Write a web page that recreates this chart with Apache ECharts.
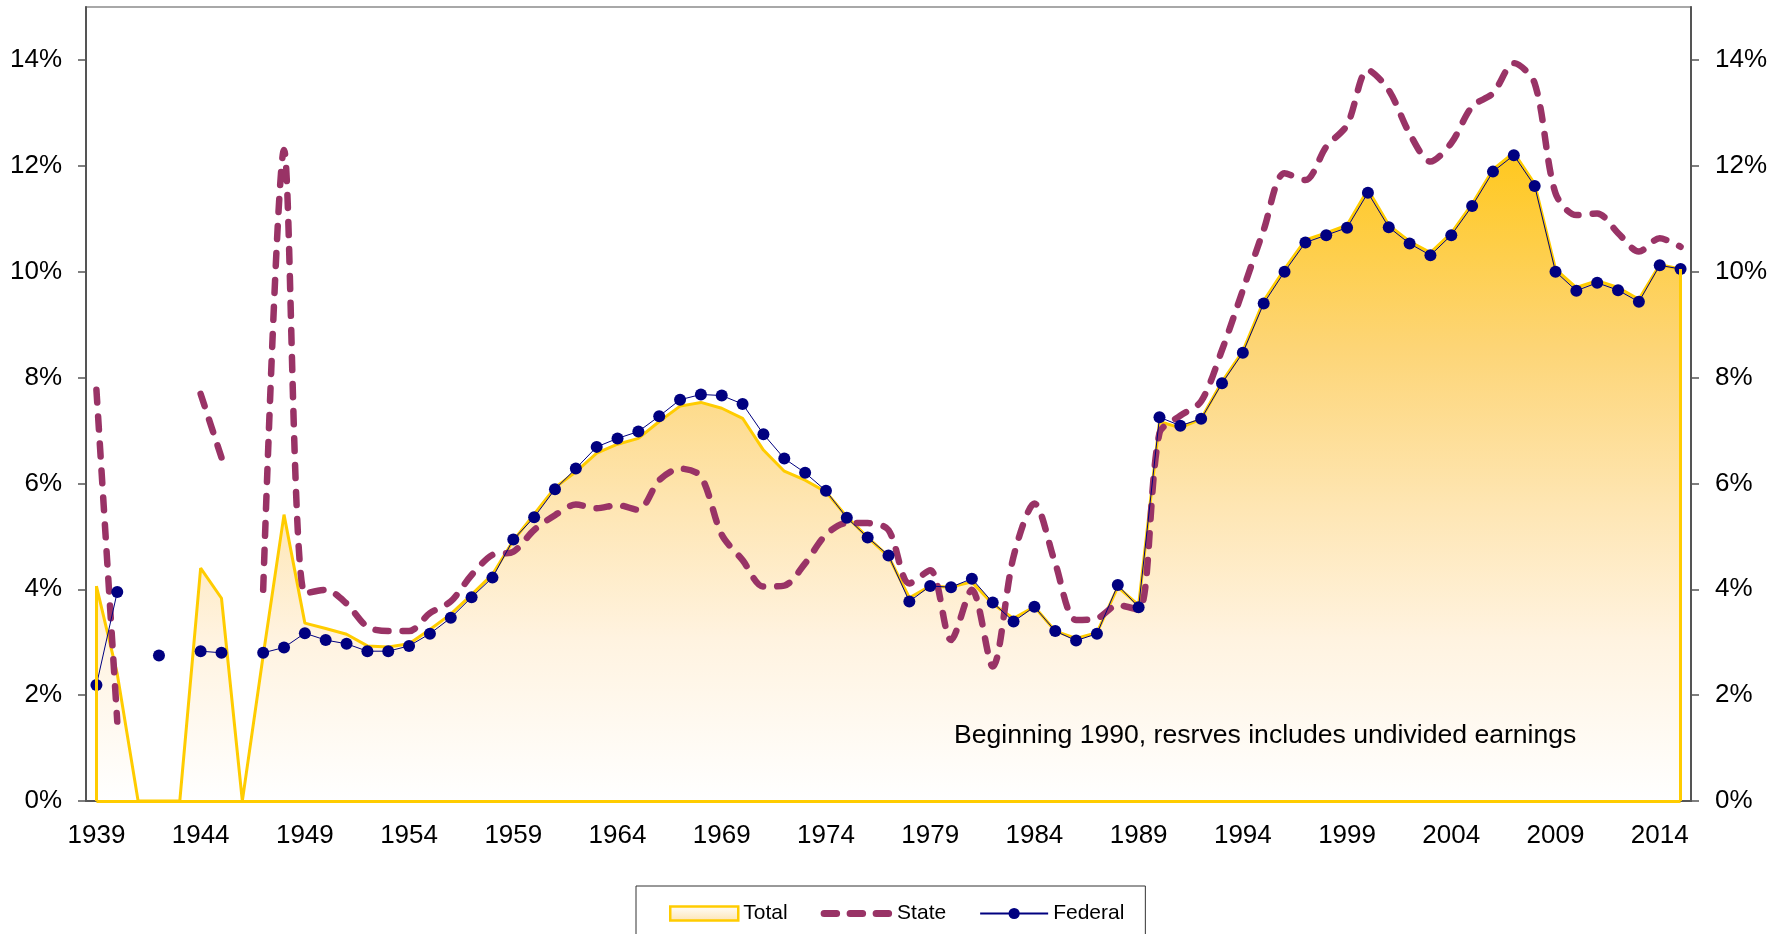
<!DOCTYPE html>
<html>
<head>
    <meta charset="utf-8">
    <title>Reserves</title>
    <script src="https://cdn.jsdelivr.net/npm/echarts@6/dist/echarts.min.js"></script>
    <style>
        html, body { margin: 0; padding: 0; background: #fff; }
        #chart { width: 1784px; height: 934px; }
    </style>
</head>
<body>
<div id="chart"></div>
<script>
    // years 1939..2015
    const years = [];
    for (let y = 1939; y <= 2015; y++) years.push(String(y));

    const total = [
        4.06, 2.40, 0, 0, 0, 4.40, 3.83, 0, 2.75, 5.41,
        3.36, 3.26, 3.15, 2.93, 2.91, 2.97, 3.24, 3.53, 3.90, 4.28,
        4.92, 5.42, 5.92, 6.22, 6.57, 6.74, 6.85, 7.17, 7.46, 7.53,
        7.42, 7.23, 6.63, 6.23, 6.06, 5.84, 5.37, 4.98, 4.62, 3.84,
        4.06, 4.04, 4.14, 3.72, 3.45, 3.67, 3.21, 3.07, 3.18, 4.04,
        3.70, 7.17, 7.05, 7.22, 7.92, 8.50, 9.45, 10.05, 10.60, 10.73,
        10.88, 11.55, 10.88, 10.57, 10.36, 10.73, 11.28, 11.93, 12.25, 11.66,
        10.05, 9.70, 9.83, 9.70, 9.48, 10.13, 10.05
    ];
    const state = [
        7.77, 1.50, null, null, null, 7.69, 6.49, null, 3.99, 12.30,
        3.92, 3.99, 3.73, 3.29, 3.21, 3.21, 3.55, 3.77, 4.27, 4.65,
        4.71, 5.12, 5.40, 5.60, 5.53, 5.59, 5.50, 6.06, 6.28, 6.13,
        5.03, 4.55, 4.05, 4.07, 4.49, 5.03, 5.25, 5.25, 5.12, 4.11,
        4.36, 3.04, 3.99, 2.54, 4.62, 5.62, 4.49, 3.42, 3.45, 3.70,
        3.61, 6.95, 7.28, 7.55, 8.52, 9.65, 10.79, 11.86, 11.73, 12.36,
        12.77, 13.81, 13.43, 12.61, 12.08, 12.43, 13.12, 13.37, 13.94, 13.56,
        11.48, 11.07, 11.10, 10.73, 10.38, 10.63, 10.47
    ];
    const federal = [
        2.19, 3.95, null, 2.75, null, 2.83, 2.80, null, 2.80, 2.90,
        3.17, 3.04, 2.97, 2.83, 2.83, 2.93, 3.16, 3.46, 3.85, 4.22,
        4.94, 5.36, 5.89, 6.28, 6.69, 6.85, 6.98, 7.27, 7.58, 7.68,
        7.66, 7.50, 6.93, 6.47, 6.20, 5.86, 5.35, 4.98, 4.64, 3.77,
        4.06, 4.04, 4.20, 3.75, 3.39, 3.67, 3.21, 3.03, 3.16, 4.08,
        3.66, 7.25, 7.09, 7.22, 7.89, 8.47, 9.40, 10.00, 10.55, 10.69,
        10.83, 11.49, 10.84, 10.53, 10.31, 10.69, 11.24, 11.89, 12.20, 11.62,
        10.00, 9.64, 9.79, 9.65, 9.43, 10.12, 10.05
    ];
    const yTicks = [0, 2, 4, 6, 8, 10, 12, 14];
    const note = 'Beginning 1990, resrves includes undivided earnings';

    const FONT = '"Liberation Sans", Arial, sans-serif';
    const first = years[0], last = years[years.length - 1];

    function yAxisOpt(pos) {
        return {
            type: 'value', position: pos, min: 0, max: 15,
            axisLine: { show: true, lineStyle: { color: '#555', width: 2 } },
            axisTick: { show: true, length: 8, customValues: yTicks, lineStyle: { color: '#555', width: 1.5 } },
            axisLabel: {
                customValues: yTicks, margin: 24, color: '#000',
                fontSize: 26, fontFamily: FONT,
                formatter: v => v + '%'
            },
            splitLine: { show: false }
        };
    }

    const chart = echarts.init(document.getElementById('chart'));
    chart.setOption({
        animation: false,
        backgroundColor: '#fff',
        grid: {
            left: 86, right: 93, top: 7, bottom: 133,
            show: true, borderColor: '#8c8c8c', borderWidth: 1.5
        },
        xAxis: {
            type: 'category', data: years, boundaryGap: true,
            axisLine: { lineStyle: { color: '#555', width: 2 } },
            axisTick: { interval: 0, length: 7, lineStyle: { color: '#555', width: 1.5 } },
            axisLabel: { interval: 4, margin: 22, color: '#000', fontSize: 26, fontFamily: FONT }
        },
        yAxis: [yAxisOpt('left'), yAxisOpt('right')],
        legend: {
            left: 636, top: 886,
            padding: [17, 21, 40, 33],
            itemGap: 33, itemWidth: 68, itemHeight: 14,
            borderColor: '#333', borderWidth: 1, backgroundColor: '#fff',
            textStyle: { fontSize: 21, fontFamily: FONT, color: '#000' },
            data: [
                {
                    name: 'Total', icon: 'rect',
                    itemStyle: {
                        color: new echarts.graphic.LinearGradient(0, 0, 0, 1, [
                            { offset: 0, color: '#FFFFFF' },
                            { offset: 1, color: '#FDE3B0' }
                        ]),
                        borderColor: '#FFCC00', borderWidth: 2.5
                    }
                },
                {
                    name: 'State',
                    itemStyle: { opacity: 0, color: 'rgba(0,0,0,0)' },
                    lineStyle: { color: '#993366', width: 7, type: [12.5, 13.5], cap: 'round' }
                },
                'Federal'
            ]
        },
        graphic: [{
            type: 'text', left: 954, top: 722, z: 100,
            style: { text: note, fontSize: 26.6, fontFamily: FONT, fill: '#000' }
        }],
        series: [
            {
                name: 'Total', type: 'line', data: total,
                symbol: 'none',
                lineStyle: { color: '#FFCC00', width: 3 },
                itemStyle: { color: '#FFCC00' },
                areaStyle: {
                    color: new echarts.graphic.LinearGradient(0, 0, 0, 1, [
                        { offset: 0, color: '#FFC81E' },
                        { offset: 0.3, color: '#FDD576' },
                        { offset: 0.55, color: '#FEE6B4' },
                        { offset: 0.75, color: '#FFF3E0' },
                        { offset: 1, color: '#FFFFFF' }
                    ]),
                    opacity: 1
                },
                markLine: {
                    silent: true, symbol: 'none',
                    label: { show: false },
                    lineStyle: { color: '#FFCC00', width: 3, type: 'solid' },
                    data: [
                        [{ coord: [first, 0] }, { coord: [first, total[0]] }],
                        [{ coord: [last, 0] }, { coord: [last, total[total.length - 1]] }],
                        [{ coord: [first, 0] }, { coord: [last, 0] }]
                    ]
                }
            },
            {
                name: 'State', type: 'line', data: state,
                symbol: 'none', smooth: 0.3,
                lineStyle: { color: '#993366', width: 6.5, type: [13, 14], cap: 'round', join: 'round' },
                itemStyle: { color: '#993366' }
            },
            {
                name: 'Federal', type: 'line', data: federal,
                symbol: 'circle', symbolSize: 12, showAllSymbol: true,
                lineStyle: { color: '#000080', width: 1 },
                itemStyle: { color: '#000080' }
            }
        ]
    });
</script>
</body>
</html>
